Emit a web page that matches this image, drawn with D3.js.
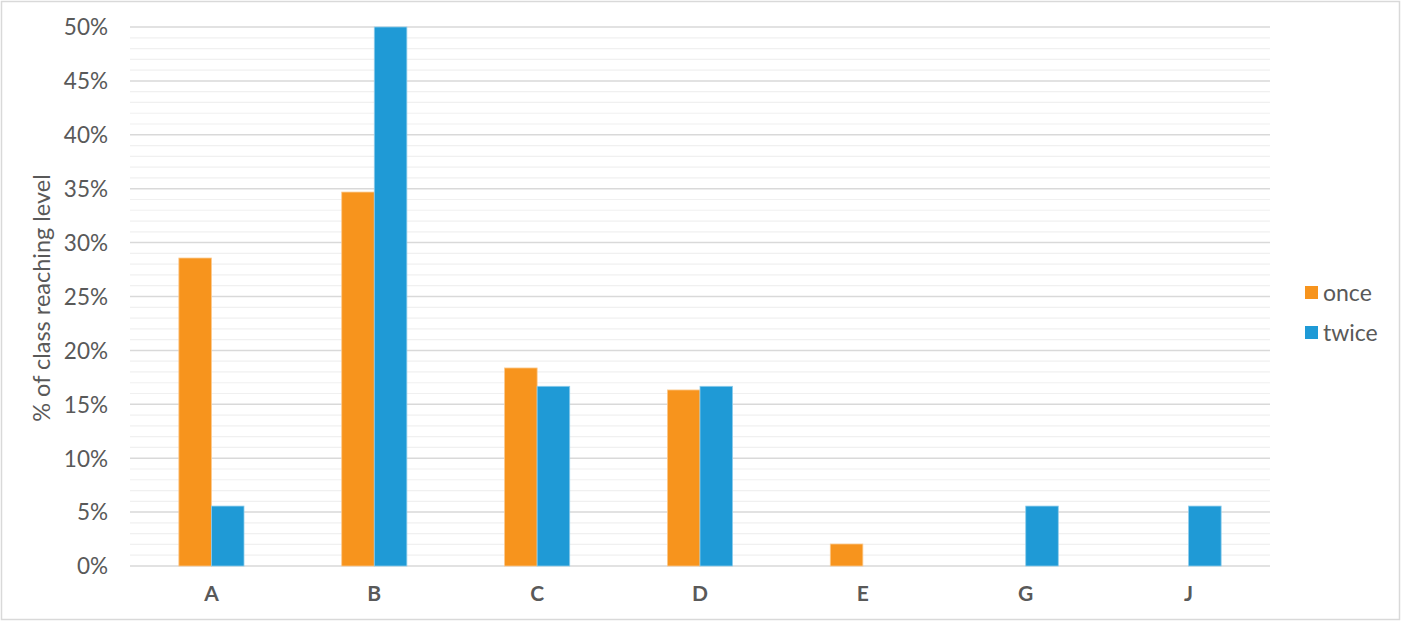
<!DOCTYPE html>
<html><head><meta charset="utf-8">
<script src="https://cdn.jsdelivr.net/npm/d3@7"></script>
<style>body{margin:0;background:#fff}svg{display:block}</style>
</head><body>
<svg id="c" width="1402" height="622"></svg>
<script>
const categories = ["A","B","C","D","E","G","J"];
const seriesNames = ["once","twice"];
const onceValues = [28.57, 34.69, 18.37, 16.33, 2.04, 0, 0];
const twiceValues = [5.56, 50, 16.67, 16.67, 0, 5.56, 5.56];
const yTicks = [0,5,10,15,20,25,30,35,40,45,50];
const colors = ["#f7941d","#1f9ad6"];

const svg = d3.select("#c");
const font = "Lato, 'Open Sans', sans-serif";
const txt = "#595959";
svg.append("rect").attr("x",1.5).attr("y",1.5).attr("width",1398).attr("height",618)
  .attr("fill","#fff").attr("stroke","#d9d9d9").attr("stroke-width",1.5);

const L=130,R=1270,T=27,B=566;
const x = d3.scaleBand().domain(categories).range([L,R]).padding(0);
const y = d3.scaleLinear().domain([0,50]).range([B,T]);

// minor gridlines
const minor = d3.range(0,51,1).filter(v=>v%5!==0);
svg.append("g").selectAll("line").data(minor).join("line")
  .attr("x1",L).attr("x2",R).attr("y1",d=>y(d)).attr("y2",d=>y(d))
  .attr("stroke","#f0f0f0").attr("stroke-width",1.2);
// major gridlines
svg.append("g").selectAll("line").data(yTicks).join("line")
  .attr("x1",L).attr("x2",R).attr("y1",d=>y(d)).attr("y2",d=>y(d))
  .attr("stroke","#d9d9d9").attr("stroke-width",1.5);

const bw = x.bandwidth()*0.2;
const data = categories.map((c,i)=>({c, vals:[onceValues[i],twiceValues[i]]}));
const g = svg.append("g");
data.forEach(d=>{
  d.vals.forEach((v,j)=>{
    if(v<=0) return;
    const cx = x(d.c)+x.bandwidth()/2;
    g.append("rect").attr("x",cx-bw+j*bw).attr("width",bw)
      .attr("y",y(v)).attr("height",y(0)-y(v))
      .attr("fill",colors[j]).attr("stroke",j===0?"#fbc98e":"#8fcdeb").attr("stroke-width",0.8);
  });
});

// y axis labels
const yAxis = d3.axisLeft(y).tickValues(yTicks).tickFormat(d=>d+"%").tickSize(0).tickPadding(0);
const ya = svg.append("g").attr("transform",`translate(108,0)`).call(yAxis);
ya.select(".domain").remove();
ya.selectAll("text").attr("font-family",font).attr("font-size",22.5).attr("fill",txt).attr("dy","0.35em");

// x axis labels
const xAxis = d3.axisBottom(x).tickSize(0).tickPadding(0);
const xa = svg.append("g").attr("transform",`translate(0,${B+20})`).call(xAxis);
xa.select(".domain").remove();
xa.selectAll("text").attr("font-family",font).attr("font-size",21).attr("font-weight","bold").attr("fill",txt).attr("dy","0.71em");

// y title
svg.append("text").attr("transform",`translate(50,${298}) rotate(-90)`)
  .attr("text-anchor","middle").attr("font-family",font).attr("font-size",23.5).attr("fill",txt)
  .text("% of class reaching level");

// legend
const lg = svg.append("g");
seriesNames.forEach((s,i)=>{
  const yy = 293 + i*40;
  lg.append("rect").attr("x",1305).attr("y",yy-7).attr("width",13).attr("height",13).attr("fill",colors[i]);
  lg.append("text").attr("x",1323).attr("y",yy).attr("dy","0.35em")
    .attr("font-family",font).attr("font-size",23).attr("fill",txt).text(s);
});
</script>
</body></html>
